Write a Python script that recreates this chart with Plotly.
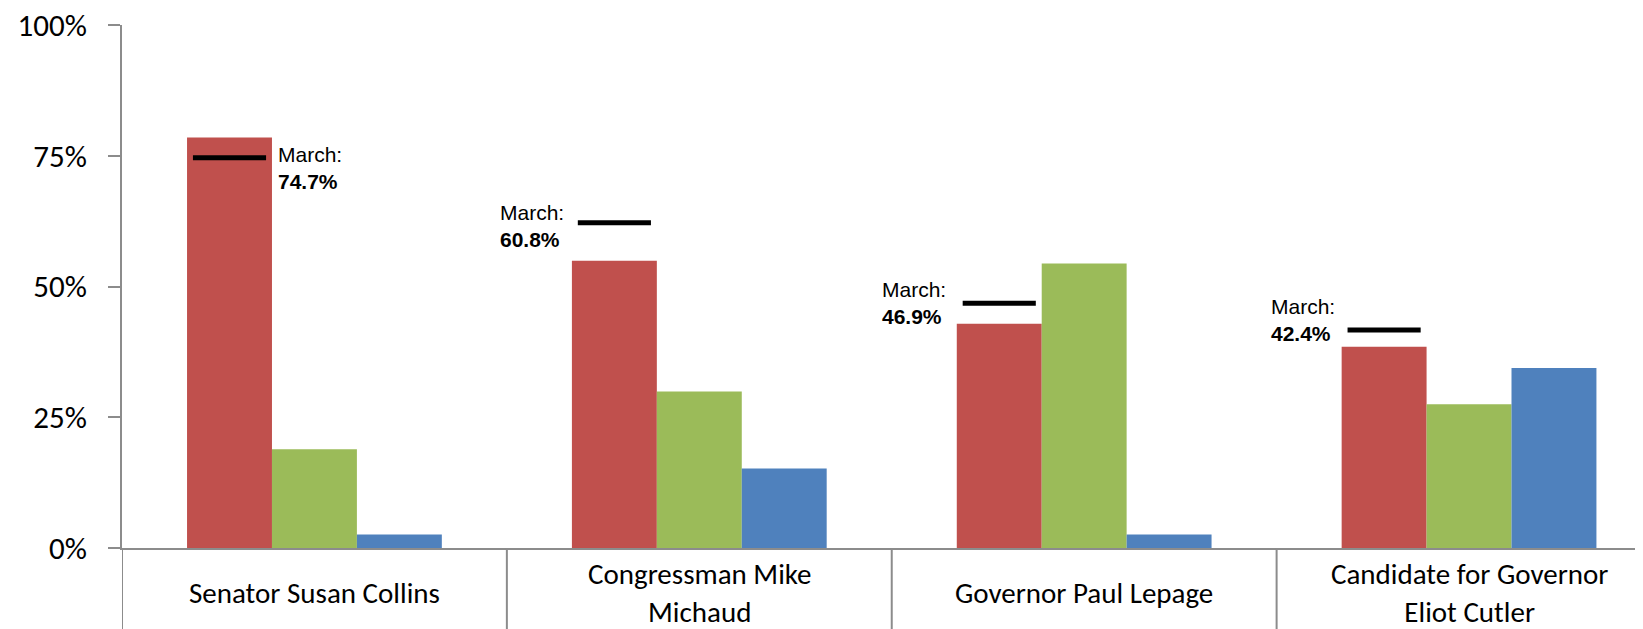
import plotly.graph_objects as go

# categories and series (in %)
categories = ["Senator Susan Collins", "Congressman Mike<br>Michaud",
              "Governor Paul Lepage", "Candidate for Governor<br>Eliot Cutler"]
red_values = [78.5, 54.9, 42.9, 38.5]
green_values = [18.9, 29.9, 54.4, 27.5]
blue_values = [2.6, 15.2, 2.6, 34.4]

# March marks: label text and the level the dash is drawn at
march_values = [74.7, 60.8, 46.9, 42.4]
march_marker = [74.6, 62.2, 46.8, 41.7]

y_ticks = [0, 25, 50, 75, 100]
y_ticktext = ["0%", "25%", "50%", "75%", "100%"]

RED, GREEN, BLUE = "#C0504D", "#9BBB59", "#4F81BD"
GRAY = "#8C8C8C"
CAT_FONT = "Carlito, Liberation Sans Narrow, Arial Narrow, sans-serif"

bargap = 0.338
bar_w = (1 - bargap) / 3  # width of one bar, in category units
x_pos = list(range(len(categories)))

fig = go.Figure()
for vals, col in [(red_values, RED), (green_values, GREEN), (blue_values, BLUE)]:
    fig.add_trace(go.Bar(x=x_pos, y=vals, marker=dict(color=col, line=dict(width=0)),
                         showlegend=False))

# black dash over each red bar for the March value
lx, ly = [], []
for i, m in enumerate(march_marker):
    c = i - bar_w
    lx += [c - 0.095, c + 0.095, None]
    ly += [m, m, None]
fig.add_trace(go.Scatter(x=lx, y=ly, mode="lines", line=dict(color="black", width=5),
                         showlegend=False, hoverinfo="skip"))

# March labels
label_side = ["right", "left", "left", "left"]
label_xshift = [4, -12, -15, -11]
label_yshift = [-10, -3, 0, 10]
for i, v in enumerate(march_values):
    c = i - bar_w
    if label_side[i] == "right":
        x, anchor = c + bar_w / 2, "left"
    else:
        x, anchor = c - 0.095, "right"
    fig.add_annotation(x=x, y=march_marker[i], xref="x", yref="y", showarrow=False,
                       text="March:<br><b>%.1f%%</b>" % v, align="left",
                       xanchor=anchor, yanchor="middle",
                       xshift=label_xshift[i], yshift=label_yshift[i],
                       font=dict(family="Liberation Sans, Arial", size=21, color="black"))

# category labels under the axis, centred vertically like the original
for i, cat in enumerate(categories):
    fig.add_annotation(x=i, y=0, xref="x", yref="paper", yshift=-45, showarrow=False,
                       text=cat, xanchor="center", yanchor="middle",
                       font=dict(family=CAT_FONT, size=29, color="black"))

# separators between categories, running below the axis
for b in [-0.5, 0.5, 1.5, 2.5]:
    fig.add_shape(type="line", xref="x", yref="paper", x0=b, x1=b, y0=0, y1=-0.3,
                  line=dict(color=GRAY, width=2))

# the page adds an 8px body margin, so margins are shifted by 8
fig.update_layout(
    barmode="group", bargap=bargap, bargroupgap=0,
    width=1643, height=629,
    margin=dict(l=114, r=8, t=17, b=89, autoexpand=False),
    plot_bgcolor="white", paper_bgcolor="white",
    xaxis=dict(range=[-0.5, 3.452], showticklabels=False, showgrid=False, zeroline=False,
               showline=True, linecolor=GRAY, linewidth=2, ticks="", automargin=False),
    yaxis=dict(range=[0, 100], tickvals=y_ticks, ticktext=y_ticktext, showgrid=False,
               zeroline=False, showline=True, linecolor=GRAY, linewidth=2,
               ticks="outside", ticklen=12, tickcolor=GRAY, tickwidth=2,
               ticklabelstandoff=15, ticklabeloverflow="allow", automargin=False,
               tickfont=dict(family=CAT_FONT, size=31, color="black")),
)

fig.write_html("out.html")
